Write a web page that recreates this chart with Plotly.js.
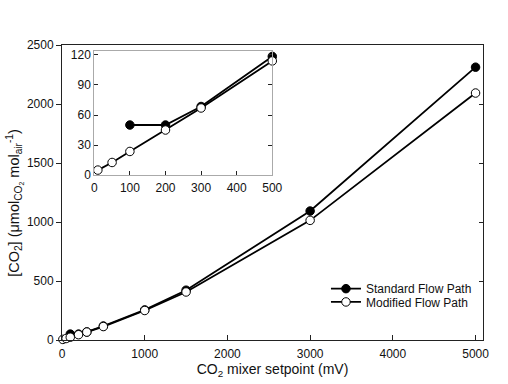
<!DOCTYPE html>
<html>
<head>
<meta charset="utf-8">
<script src="https://cdn.plot.ly/plotly-3.0.1.min.js"></script>
<style>html,body{margin:0;padding:0;background:#fff}#chart{width:508px;height:384px}</style>
</head>
<body>
<div id="chart"></div>
<script>
// Data (CO2 mixer setpoint in mV, measured [CO2] in umol/mol)
var standardX = [100, 200, 300, 500, 1000, 1500, 3000, 5000];
var standardY = [50, 50, 68.5, 118.5, 255, 422, 1093, 2312];
var modifiedX = [10, 50, 100, 200, 300, 500, 1000, 1500, 3000, 5000];
var modifiedY = [5, 12.6, 23.6, 45, 67, 114, 250, 407, 1014, 2093];
var seriesNames = ['Standard Flow Path', 'Modified Flow Path'];
var mainXTicks = [0, 1000, 2000, 3000, 4000, 5000];
var mainYTicks = [0, 500, 1000, 1500, 2000, 2500];
var insetXTicks = [0, 100, 200, 300, 400, 500];
var insetYTicks = [0, 30, 60, 90, 120];
var insetMaxX = 500;
var xTitle = 'CO<sub>2</sub> mixer setpoint (mV)';
var yTitle = '[CO<sub>2</sub>] (μmol<sub>CO<sub>2</sub></sub> mol<sub>air</sub><sup>-1</sup>)';

function subset(xs, ys) {
  var ox = [], oy = [];
  for (var i = 0; i < xs.length; i++) {
    if (xs[i] <= insetMaxX) { ox.push(xs[i]); oy.push(ys[i]); }
  }
  return {x: ox, y: oy};
}
var sIn = subset(standardX, standardY);
var mIn = subset(modifiedX, modifiedY);

var FONT = 'Liberation Sans, Arial, sans-serif';
var lineStd = {color: '#000', width: 1.8};
var mkStd = {symbol: 'circle', size: 8.5, color: '#000', line: {color: '#000', width: 1}};
var mkMod = {symbol: 'circle', size: 8.5, color: '#fff', line: {color: '#000', width: 1}};

var traces = [
  {x: standardX, y: standardY, type: 'scatter', mode: 'lines+markers', name: seriesNames[0],
   line: lineStd, marker: mkStd, cliponaxis: false, legend: 'legend'},
  {x: modifiedX, y: modifiedY, type: 'scatter', mode: 'lines+markers', name: seriesNames[1],
   line: lineStd, marker: mkMod, cliponaxis: false, legend: 'legend2'},
  {x: sIn.x, y: sIn.y, type: 'scatter', mode: 'lines+markers', xaxis: 'x2', yaxis: 'y2',
   line: lineStd, marker: mkStd, cliponaxis: false, showlegend: false},
  {x: mIn.x, y: mIn.y, type: 'scatter', mode: 'lines+markers', xaxis: 'x2', yaxis: 'y2',
   line: lineStd, marker: mkMod, cliponaxis: false, showlegend: false},
  {x: [], y: [], type: 'scatter', mode: 'markers', xaxis: 'x', yaxis: 'y3', showlegend: false, hoverinfo: 'skip'}
];

var tickFont = {family: FONT, size: 12, color: '#111'};
var layout = {
  width: 508, height: 384,
  margin: {l: 62, r: 25, t: 45, b: 44, pad: 0},
  paper_bgcolor: '#fff', plot_bgcolor: 'rgba(0,0,0,0)',
  font: {family: FONT, size: 12, color: '#111'},
  xaxis: {
    range: [0, 5090], tickvals: mainXTicks, ticks: 'inside', ticklen: 5, tickcolor: '#222',
    showline: true, linecolor: '#222', linewidth: 1, mirror: true, showgrid: false, zeroline: false,
    tickfont: tickFont, ticklabelstandoff: 3,
    title: {text: xTitle, font: {family: FONT, size: 14, color: '#111'}, standoff: 2}
  },
  yaxis: {
    range: [0, 2500], tickvals: mainYTicks, ticks: 'outside', ticklen: 5, tickcolor: '#222',
    showline: true, linecolor: '#222', linewidth: 1, mirror: true, showgrid: false, zeroline: false,
    tickfont: tickFont
  },
  yaxis3: {
    overlaying: 'y', side: 'right', anchor: 'x', range: [0, 2500], tickvals: mainYTicks,
    ticks: 'inside', ticklen: 4, tickcolor: '#222', showticklabels: false,
    showline: false, showgrid: false, zeroline: false
  },
  xaxis2: {
    domain: [0.0767, 0.4995], anchor: 'y2', range: [0, 500], tickvals: insetXTicks,
    ticks: 'inside', ticklen: 4, tickcolor: '#222',
    showline: true, linecolor: '#aaa', linewidth: 1, mirror: true, showgrid: false, zeroline: false,
    tickfont: tickFont, ticklabelstandoff: 2
  },
  yaxis2: {
    domain: [0.559, 0.98], anchor: 'x2', range: [0, 124], tickvals: insetYTicks,
    ticks: 'inside', ticklen: 4, tickcolor: '#222',
    showline: true, linecolor: '#aaa', linewidth: 1, mirror: 'ticks', showgrid: false, zeroline: false,
    tickfont: tickFont
  },
  annotations: [{
    text: yTitle, textangle: -90, xref: 'paper', yref: 'paper',
    x: -0.1116, y: 0.465, xanchor: 'center', yanchor: 'middle', showarrow: false,
    font: {family: FONT, size: 14.5, color: '#111'}
  }],
  legend: {
    x: 0.627, y: 0.174, xanchor: 'left', yanchor: 'middle', bgcolor: 'rgba(0,0,0,0)',
    font: {family: FONT, size: 12, color: '#111'}, borderwidth: 0
  },
  legend2: {
    x: 0.627, y: 0.129, xanchor: 'left', yanchor: 'middle', bgcolor: 'rgba(0,0,0,0)',
    font: {family: FONT, size: 12, color: '#111'}, borderwidth: 0
  },
  showlegend: true
};

Plotly.newPlot('chart', traces, layout, {staticPlot: true, displayModeBar: false});
</script>
</body>
</html>
